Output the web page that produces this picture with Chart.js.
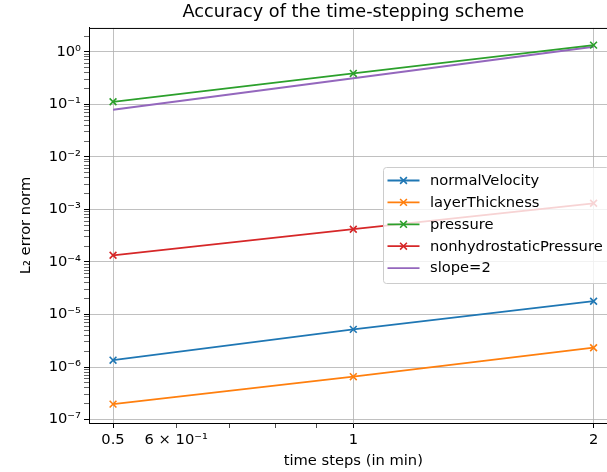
<!DOCTYPE html>
<html>
<head>
<meta charset="utf-8">
<script src="https://cdn.jsdelivr.net/npm/chart.js@4.4.0/dist/chart.umd.min.js"></script>
<style>
  html, body { margin:0; padding:0; background:#fff; overflow:hidden; }
  #wrap { width:624px; height:472px; position:relative; }
</style>
</head>
<body>
<div id="wrap"><canvas id="c"></canvas></div>
<script>
// time steps (min)
const steps = [0.5, 1, 2];
const slopeSteps = [0.5, 2];

const normalVelocity = [1.35e-6, 5.2e-6, 1.79e-5];
const layerThickness = [1.97e-7, 6.55e-7, 2.33e-6];
const pressure       = [0.112, 0.388, 1.34];
const nonhydroPress  = [1.34e-4, 4.2e-4, 1.31e-3];
const slope2         = [0.079, 1.25];

const seriesNames = ['normalVelocity', 'layerThickness', 'pressure', 'nonhydrostaticPressure', 'slope=2'];
const colors = ['#1f77b4', '#ff7f0e', '#2ca02c', '#d62728', '#9467bd'];

// ticks
const xMajor = [0.5, 1, 2];
const xMinor = [0.6, 0.7, 0.8, 0.9];
const xLabels = { 0.5:'0.5', 0.6:'6 × 10⁻¹', 1:'1', 2:'2' };
const yDecades = [-7, -6, -5, -4, -3, -2, -1, 0];
const yMinorMult = [2, 3, 4, 5, 6, 7, 8, 9];
const supers = { '-':'⁻', '0':'⁰', '1':'¹', '2':'²', '3':'³', '4':'⁴', '5':'⁵', '6':'⁶', '7':'⁷', '8':'⁸', '9':'⁹' };

const FONT = 'DejaVu Sans';
const FS = 14.7;
const pts = (xs, ys) => xs.map((x, i) => ({ x, y: ys[i] }));

function ds(i, xs, ys, marker){
  return {
    label: seriesNames[i], data: pts(xs, ys),
    borderColor: colors[i], backgroundColor: colors[i],
    borderWidth: 1.8, pointStyle: marker ? 'crossRot' : false,
    pointRadius: marker ? 4.8 : 0, pointBorderWidth: 1.6,
    tension: 0
  };
}

const yTickVals = [];
yDecades.forEach(d => {
  yTickVals.push({ value: Math.pow(10, d), major: true });
  yMinorMult.forEach(m => yTickVals.push({ value: m * Math.pow(10, d), major: false }));
});
const xTickVals = xMajor.map(v => ({ value: v, major: true }))
  .concat(xMinor.map(v => ({ value: v, major: false })))
  .sort((a, b) => a.value - b.value);

function supNum(d){ return '10' + String(d).split('').map(c => supers[c]).join(''); }

const frame = {
  id: 'frame',
  afterDatasetsDraw(chart){
    const { ctx, chartArea: a } = chart;
    ctx.save();
    ctx.strokeStyle = '#000';
    ctx.lineWidth = 1;
    ctx.beginPath();
    ctx.moveTo(a.left, a.top + 0.5);
    ctx.lineTo(a.right, a.top + 0.5);
    ctx.lineTo(a.right, a.bottom);
    ctx.stroke();

    // legend (center right, inside the axes)
    const bx = 383.5, by = 167.5, bw = 226, bh = 116, rowH = 21.9;
    ctx.fillStyle = 'rgba(255,255,255,0.8)';
    ctx.strokeStyle = '#cccccc';
    ctx.beginPath();
    ctx.roundRect(bx, by, bw, bh, 3);
    ctx.fill();
    ctx.stroke();
    ctx.font = `${FS}px "${FONT}"`;
    ctx.textBaseline = 'middle';
    chart.data.datasets.forEach((d, i) => {
      const y = by + 13 + i * rowH;
      ctx.strokeStyle = d.borderColor;
      ctx.lineWidth = 1.8;
      ctx.beginPath();
      ctx.moveTo(bx + 4, y);
      ctx.lineTo(bx + 36, y);
      ctx.stroke();
      if (d.pointStyle) {
        ctx.lineWidth = 1.6;
        const r = 3.4;
        ctx.beginPath();
        ctx.moveTo(bx + 20 - r, y - r); ctx.lineTo(bx + 20 + r, y + r);
        ctx.moveTo(bx + 20 - r, y + r); ctx.lineTo(bx + 20 + r, y - r);
        ctx.stroke();
      }
      ctx.fillStyle = '#000';
      ctx.fillText(d.label, bx + 46.5, y + 0.5);
    });
    ctx.restore();
  }
};

new Chart(document.getElementById('c'), {
  type: 'line',
  data: {
    datasets: [
      ds(0, steps, normalVelocity, true),
      ds(1, steps, layerThickness, true),
      ds(2, steps, pressure, true),
      ds(3, steps, nonhydroPress, true),
      ds(4, slopeSteps, slope2, false)
    ]
  },
  options: {
    responsive: true, maintainAspectRatio: false, animation: false,
    layout: { padding: { left: 0, right: 0, top: 0, bottom: 0 } },
    plugins: {
      legend: { display: false },
      tooltip: { enabled: false },
      title: {
        display: true, fullSize: false, text: 'Accuracy of the time-stepping scheme', color: '#000',
        font: { family: FONT, size: 17.7, weight: 'normal', lineHeight: 1.2 },
        padding: { top: 2, bottom: 4.7 }
      }
    },
    scales: {
      x: {
        type: 'logarithmic', min: 0.4665, max: 2.1435,
        afterBuildTicks: s => { s.ticks = xTickVals.map(t => ({ ...t })); },
        afterFit: s => { s.height = 49; },
        ticks: {
          autoSkip: false, maxRotation: 0, color: '#000', padding: 3,
          font: { family: FONT, size: FS },
          callback: v => xLabels[v] || ''
        },
        grid: {
          color: c => (c.tick && c.tick.major) ? '#b0b0b0' : 'rgba(0,0,0,0)',
          lineWidth: 0.8, tickColor: '#000', tickLength: 5,
          tickWidth: c => (c.tick && c.tick.major) ? 1 : 0.7
        },
        border: { display: true, color: '#000', width: 1 },
        title: {
          display: true, text: 'time steps (in min)', color: '#000',
          font: { family: FONT, size: FS }, padding: { top: 0, bottom: 2 }
        }
      },
      y: {
        type: 'logarithmic', min: 8.6e-8, max: 2.85,
        afterBuildTicks: s => { s.ticks = yTickVals.filter(t => t.value >= s.min && t.value <= s.max).map(t => ({ ...t })); },
        afterFit: s => { s.width = 89; },
        ticks: {
          autoSkip: false, color: '#000', padding: 3,
          font: { family: FONT, size: FS },
          callback: (v, i, ticks) => ticks[i].major ? supNum(Math.round(Math.log10(v))) : ''
        },
        grid: {
          color: c => (c.tick && c.tick.major) ? '#b0b0b0' : 'rgba(0,0,0,0)',
          lineWidth: 0.8, tickColor: '#000', tickLength: 5,
          tickWidth: c => (c.tick && c.tick.major) ? 1 : 0.6
        },
        border: { display: true, color: '#000', width: 1 },
        title: {
          display: true, text: 'L₂ error norm', color: '#000',
          font: { family: FONT, size: FS }, padding: { top: 17, bottom: 0 }
        }
      }
    }
  },
  plugins: [frame]
});
</script>
</body>
</html>
